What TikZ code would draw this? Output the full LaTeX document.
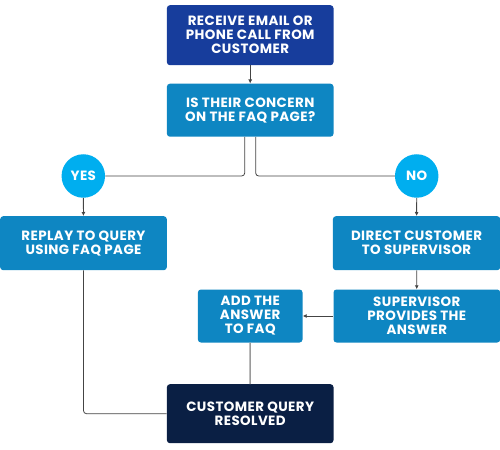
\documentclass[tikz,border=0pt]{standalone}
\usepackage{fontspec}
\setmainfont{Poppins}[UprightFont={* Bold},BoldFont={* Bold},LetterSpace=3]
\usetikzlibrary{arrows.meta}
\definecolor{topblue}{HTML}{173D9C}
\definecolor{midblue}{HTML}{0E86C2}
\definecolor{cyanc}{HTML}{00AEEF}
\definecolor{navy}{HTML}{0A1F44}
\definecolor{linec}{HTML}{444444}
\definecolor{greyl}{HTML}{9A9A9A}
\tikzset{
  box/.style={rectangle, rounded corners=3bp, anchor=north west, text=white,
    align=center, inner sep=0pt, font=\fontsize{13.5}{14}\selectfont},
  yn/.style={circle, fill=cyanc, minimum size=43.5bp, inner sep=0pt, text=white,
    font=\fontsize{13.5}{14}\selectfont},
  conn/.style={draw=linec, line width=0.8bp, rounded corners=3bp},
  arr/.style={conn, -{Latex[length=4bp,width=4bp]}},
}
\begin{document}
\begin{tikzpicture}[x=1bp,y=-1bp]
\useasboundingbox (0,0) rectangle (500,450);
\node[box, fill=topblue, minimum width=166.6bp, minimum height=60bp] (recv) at (166.7,5) {RECEIVE EMAIL OR\\PHONE CALL FROM\\CUSTOMER};
\node[box, fill=midblue, minimum width=166.6bp, minimum height=53bp] (faq) at (166.7,83.5) {IS THEIR CONCERN\\ON THE FAQ PAGE?};
\node[yn] (yes) at (83.3,176) {YES};
\node[yn] (no) at (416.7,176) {NO};
\node[box, fill=midblue, minimum width=166.6bp, minimum height=54bp] (reply) at (0,216) {REPLAY TO QUERY\\USING FAQ PAGE};
\node[box, fill=midblue, minimum width=167.3bp, minimum height=54bp] (direct) at (332.7,216) {DIRECT CUSTOMER\\TO SUPERVISOR};
\node[box, fill=midblue, minimum width=166.7bp, minimum height=53bp] (sup) at (333.3,289.3) {SUPERVISOR\\PROVIDES THE\\ANSWER};
\node[box, fill=midblue, minimum width=104.6bp, minimum height=53bp] (add) at (197.7,289.3) {ADD THE\\ANSWER\\TO FAQ};
\node[box, fill=navy, minimum width=166.6bp, minimum height=59bp] (res) at (166.7,384) {CUSTOMER QUERY\\RESOLVED};

\draw[arr] (recv) -- (faq);
\draw[conn] ([xshift=-5.5bp]faq.south) |- (yes);
\draw[conn] ([xshift=5.5bp]faq.south) |- (no);
\draw[arr] (yes) -- (reply);
\draw[arr] (no) -- (direct);
\draw[arr] (direct) -- (sup);
\draw[arr] (sup) -- (add);
\draw[draw=greyl, line width=1.5bp] (add) -- (res);
\draw[conn] (reply) |- (res);
\end{tikzpicture}
\end{document}
